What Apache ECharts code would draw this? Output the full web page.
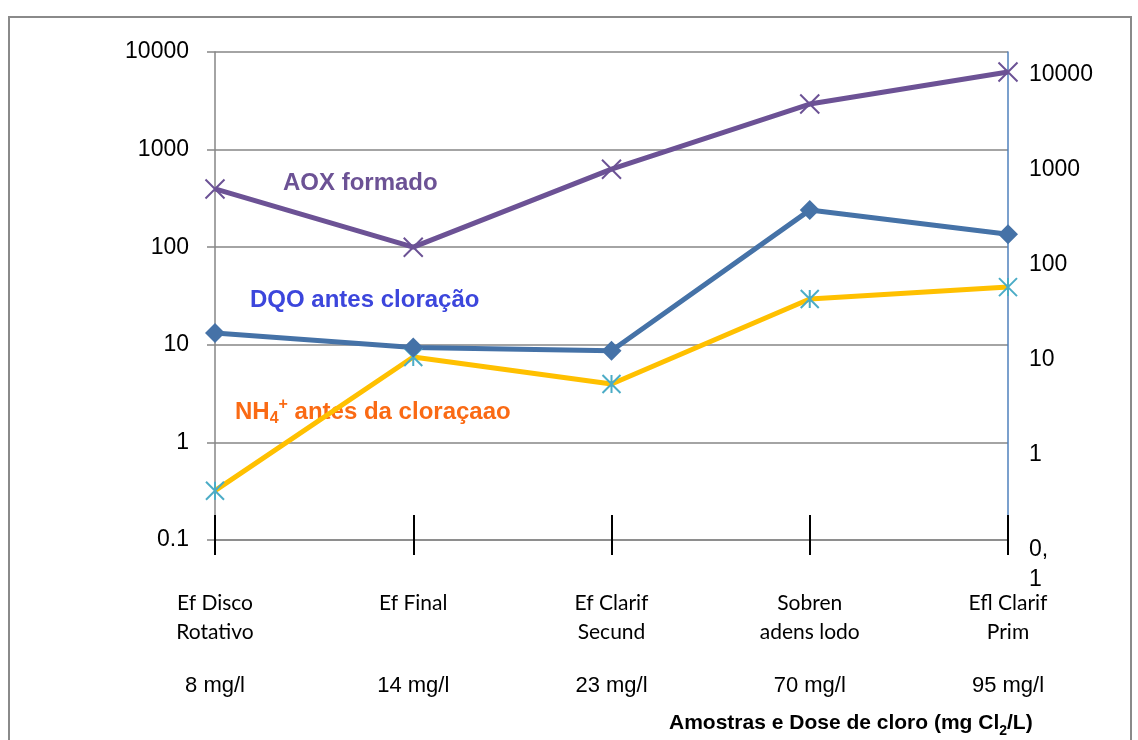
<!DOCTYPE html>
<html>
<head>
<meta charset="utf-8">
<script src="https://cdn.jsdelivr.net/npm/echarts@6/dist/echarts.min.js"></script>
<style>
  html, body { margin: 0; padding: 0; background: #fff; }
  #chart { width: 1138px; height: 740px; }
</style>
</head>
<body>
<div id="chart"></div>
<script>
// amostras e doses
const amostras = ['Ef Disco\nRotativo', 'Ef Final', 'Ef Clarif\nSecund', 'Sobren\nadens lodo', 'Efl Clarif\nPrim']
const doses = ['8 mg/l', '14 mg/l', '23 mg/l', '70 mg/l', '95 mg/l']

// valores (escala log)
const aox = [395, 100, 630, 2930, 6240]
const dqo = [13.2, 9.4, 8.7, 240, 136]
const nh4 = [0.32, 7.5, 3.96, 29.5, 39]

const chart = echarts.init(document.getElementById('chart'))

const cinza = '#868686'
const fonteArial = 'Liberation Sans'
const fonteCalibri = 'Lato'

const logFmt = v => (v < 1 ? '0.1' : String(Math.round(v)))

chart.setOption({
  animation: false,
  backgroundColor: '#fff',
  grid: [
    { left: 215, right: 130, top: 52, bottom: 200 },
    { left: 215, right: 130, top: 60, bottom: 205 } // eixo da direita
  ],
  xAxis: [
    {
      type: 'category', gridIndex: 0, position: 'bottom', data: amostras, boundaryGap: false,
      axisLine: { lineStyle: { color: cinza, width: 1.5 } },
      axisTick: { length: 15, lineStyle: { color: '#000', width: 2 } },
      axisLabel: { margin: 49, color: '#000', fontFamily: fonteCalibri, fontSize: 21, lineHeight: 29, interval: 0 }
    },
    {
      type: 'category', gridIndex: 0, position: 'bottom', data: doses, boundaryGap: false,
      axisLine: { show: false },
      axisTick: { inside: true, length: 25, lineStyle: { color: '#000', width: 2 } },
      axisLabel: { margin: 135, color: '#000', fontFamily: fonteArial, fontSize: 22, interval: 0 }
    },
    { type: 'category', gridIndex: 1, data: doses, show: false }
  ],
  yAxis: [
    {
      type: 'log', logBase: 10, min: 0.1, max: 10000, gridIndex: 0,
      axisLine: { show: true, lineStyle: { color: cinza, width: 1.5 } },
      axisTick: { show: true, length: 8, lineStyle: { color: cinza, width: 1.5 } },
      splitLine: { lineStyle: { color: cinza, width: 1.5 } },
      minorTick: { show: false },
      axisLabel: { formatter: logFmt, margin: 26, color: '#000', fontFamily: fonteArial, fontSize: 23 }
    },
    {
      type: 'log', logBase: 10, min: 0.1, max: 10000, gridIndex: 0, position: 'right',
      axisLine: { show: true, lineStyle: { color: '#4f81bd', width: 1.5 } },
      axisTick: { show: false }, splitLine: { show: false }, axisLabel: { show: false }
    },
    {
      type: 'log', logBase: 10, min: 0.1, max: 10000, gridIndex: 1, position: 'right',
      axisLine: { show: false }, axisTick: { show: false }, splitLine: { show: false },
      axisLabel: {
        formatter: v => (v < 1 ? '0,\n1' : String(Math.round(v))),
        margin: 21, align: 'left', verticalAlign: 'top', lineHeight: 30,
        color: '#000', fontFamily: fonteArial, fontSize: 23
      }
    }
  ],
  series: [
    {
      name: 'NH4+', type: 'line', data: nh4, xAxisIndex: 0, yAxisIndex: 0,
      lineStyle: { color: '#ffc000', width: 5 },
      symbol: 'path://M0,0L20,20M20,0L0,20M10,0L10,20', symbolSize: 18,
      itemStyle: { color: 'transparent', borderColor: '#4bacc6', borderWidth: 2 }
    },
    {
      name: 'DQO', type: 'line', data: dqo, xAxisIndex: 0, yAxisIndex: 0,
      lineStyle: { color: '#4572a7', width: 5 },
      symbol: 'diamond', symbolSize: 20,
      itemStyle: { color: '#4572a7' }
    },
    {
      name: 'AOX', type: 'line', data: aox, xAxisIndex: 0, yAxisIndex: 0,
      lineStyle: { color: '#6c5295', width: 5 },
      symbol: 'path://M0,0L20,20M20,0L0,20', symbolSize: 19,
      itemStyle: { color: 'transparent', borderColor: '#6c5295', borderWidth: 2 }
    }
  ],
  graphic: [
    {
      type: 'rect', silent: true,
      shape: { x: 9, y: 17, width: 1122, height: 735 },
      style: { fill: 'none', stroke: '#8a8a8a', lineWidth: 2 }
    },
    {
      type: 'text', left: 283, top: 171,
      style: { text: 'AOX formado', fill: '#6c5295', font: 'bold 24px "Liberation Sans"' }
    },
    {
      type: 'text', left: 250, top: 288,
      style: { text: 'DQO antes cloração', fill: '#3c46dc', font: 'bold 24px "Liberation Sans"' }
    },
    {
      type: 'text', left: 235, top: 397,
      style: {
        text: 'NH{sub|4}{sup|+} antes da cloraçaao', fill: '#fa6a14',
        font: 'bold 24px "Liberation Sans"', lineHeight: 30,
        rich: {
          sub: { fontSize: 16, fontWeight: 'bold', fill: '#fa6a14', verticalAlign: 'bottom', lineHeight: 14 },
          sup: { fontSize: 16, fontWeight: 'bold', fill: '#fa6a14', verticalAlign: 'top', lineHeight: 18 }
        }
      }
    },
    {
      type: 'text', left: 669, top: 708,
      style: {
        text: 'Amostras e Dose de cloro (mg Cl{sub|2}/L)', fill: '#000',
        font: 'bold 21px "Liberation Sans"', lineHeight: 30,
        rich: {
          sub: { fontSize: 14, fontWeight: 'bold', fill: '#000', verticalAlign: 'bottom', lineHeight: 14 }
        }
      }
    }
  ]
})
</script>
</body>
</html>
